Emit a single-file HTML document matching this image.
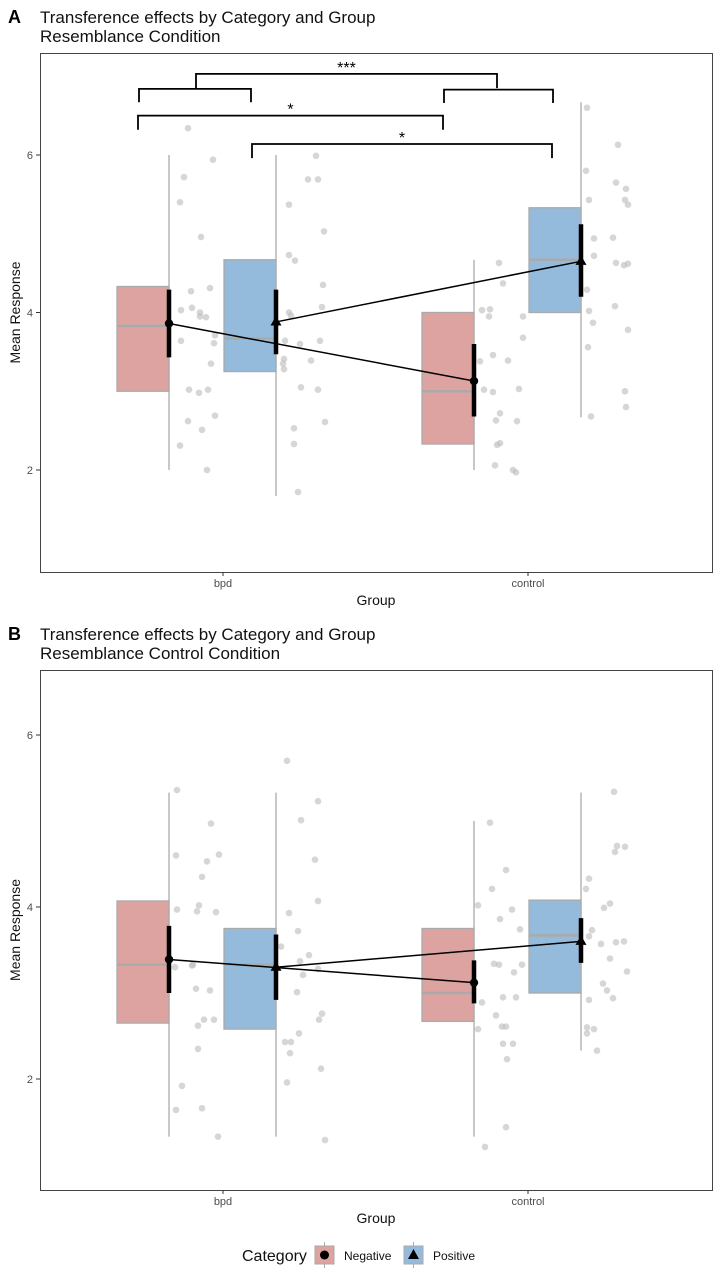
<!DOCTYPE html>
<html><head><meta charset="utf-8"><style>
body{margin:0;background:#fff;}
svg{display:block;font-family:"Liberation Sans",Arial,sans-serif;}
</style></head><body>
<svg id="chart" width="718" height="1275" viewBox="0 0 718 1275">
<g>
<text x="8" y="23" font-size="18" font-weight="bold">A</text>
<text x="40" y="23" font-size="17" fill="#111">Transference effects by Category and Group</text>
<text x="40" y="42" font-size="17" fill="#111">Resemblance Condition</text>
</g>
<g>
<text x="8" y="640" font-size="18" font-weight="bold">B</text>
<text x="40" y="640" font-size="17" fill="#111">Transference effects by Category and Group</text>
<text x="40" y="659" font-size="17" fill="#111">Resemblance Control Condition</text>
</g>
<g id="pa"></g>
<g id="pb"></g>
<g>
<text x="242" y="1261" font-size="16" fill="#111">Category</text>
<g>
<line x1="324.5" y1="1242" x2="324.5" y2="1268" stroke="#aaa" stroke-width="1"/>
<rect x="315" y="1246" width="19" height="18" fill="#dda3a1" stroke="#aaa"/>
<circle cx="324.5" cy="1255" r="4.5" fill="#000"/>
<text x="344" y="1260" font-size="12" fill="#111">Negative</text>
</g>
<g>
<line x1="413.5" y1="1242" x2="413.5" y2="1268" stroke="#aaa" stroke-width="1"/>
<rect x="404" y="1246" width="19" height="18" fill="#95bbdc" stroke="#aaa"/>
<polygon points="413.5,1249 419,1259 408,1259" fill="#000"/>
<text x="433" y="1260" font-size="12" fill="#111">Positive</text>
</g>
</g>
</svg>
<script>
const groups = ["bpd","control"];
const categories = ["Negative","Positive"];
const yTicks = [2,4,6];
// Panel A box stats [bpd-neg, bpd-pos, ctrl-neg, ctrl-pos]
const aQ1 = [3.0,3.25,2.33,4.0];
const aMed = [3.83,3.67,3.0,4.67];
const aQ3 = [4.33,4.67,4.0,5.33];
const aLo = [2.0,1.67,2.0,2.67];
const aHi = [6.0,6.0,4.67,6.67];
const aMean = [3.86,3.88,3.13,4.65];
const aCiLo = [3.43,3.47,2.68,4.2];
const aCiHi = [4.29,4.29,3.6,5.12];
// Panel B
const bQ1 = [2.65,2.58,2.67,3.0];
const bMed = [3.33,3.33,3.0,3.67];
const bQ3 = [4.07,3.75,3.75,4.08];
const bLo = [1.33,1.33,1.33,2.33];
const bHi = [5.33,5.33,5.0,5.33];
const bMean = [3.39,3.30,3.12,3.6];
const bCiLo = [3.0,2.92,2.88,3.35];
const bCiHi = [3.78,3.68,3.38,3.87];
// jittered raw points: [jitter offset, value]
const aPts0 = [[19,6.34],[44,5.94],[15,5.72],[11,5.4],[32,4.96],[22,4.27],[41,4.31],[12,4.03],[23,4.06],[31,4.0],[31,3.95],[37,3.94],[46,3.71],[12,3.64],[45,3.61],[42,3.35],[20,3.02],[30,2.98],[39,3.02],[46,2.69],[19,2.62],[33,2.51],[11,2.31],[38,2.0]];
const aPts1 = [[40,5.99],[32,5.69],[42,5.69],[13,5.37],[48,5.03],[13,4.73],[19,4.66],[47,4.35],[46,4.07],[13,4.0],[15,3.96],[9,3.64],[24,3.6],[44,3.64],[8,3.41],[7,3.35],[8,3.28],[35,3.39],[25,3.05],[42,3.02],[49,2.61],[18,2.53],[18,2.33],[22,1.72]];
const aPts2 = [[25,4.63],[29,4.37],[8,4.03],[16,4.04],[15,3.95],[49,3.95],[49,3.68],[19,3.46],[6,3.38],[34,3.39],[10,3.02],[19,2.99],[45,3.03],[26,2.72],[22,2.63],[43,2.62],[26,2.34],[23,2.32],[21,2.06],[39,2.0],[42,1.97]];
const aPts3 = [[6,6.6],[5,5.8],[35,5.65],[8,5.43],[13,4.94],[32,4.95],[13,4.72],[35,4.63],[6,4.29],[34,4.08],[8,4.02],[12,3.87],[7,3.56],[10,2.68],[37,6.13],[45,5.57],[47,5.37],[44,5.43],[43,4.6],[47,4.62],[44,3.0],[45,2.8],[47,3.78]];
const bPts0 = [[8,5.36],[42,4.97],[7,4.6],[50,4.61],[38,4.53],[33,4.35],[8,3.97],[30,4.02],[28,3.95],[47,3.94],[6,3.3],[23,3.32],[24,3.33],[27,3.05],[41,3.03],[29,2.62],[35,2.69],[45,2.69],[29,2.35],[13,1.92],[7,1.64],[33,1.66],[49,1.33]];
const bPts1 = [[11,5.7],[42,5.23],[25,5.01],[39,4.55],[42,4.07],[13,3.93],[22,3.72],[5,3.54],[33,3.44],[24,3.37],[42,3.28],[27,3.21],[21,3.01],[46,2.76],[43,2.69],[23,2.53],[9,2.43],[15,2.43],[14,2.3],[45,2.12],[11,1.96],[49,1.29]];
const bPts2 = [[16,4.98],[32,4.43],[18,4.21],[4,4.02],[26,3.86],[38,3.97],[46,3.74],[20,3.34],[25,3.33],[48,3.33],[40,3.24],[8,2.89],[29,2.95],[42,2.95],[22,2.74],[4,2.58],[28,2.61],[32,2.61],[29,2.41],[39,2.41],[33,2.23],[32,1.44],[11,1.21]];
const bPts3 = [[33,5.34],[36,4.71],[34,4.64],[8,4.33],[5,4.21],[23,3.99],[29,4.04],[8,3.66],[11,3.73],[20,3.57],[35,3.59],[29,3.4],[22,3.11],[26,3.03],[32,2.94],[8,2.92],[6,2.6],[13,2.58],[6,2.53],[16,2.33],[44,4.7],[46,3.25],[43,3.6]];

const NS="http://www.w3.org/2000/svg";
function mk(parent,tag,attrs){const e=document.createElementNS(NS,tag);for(const k in attrs)e.setAttribute(k,attrs[k]);parent.appendChild(e);return e;}
const groupX = {bpd:223, control:528};
function markX(gi,ci){return groupX[groups[gi]] + (ci===0?-54:53);}

function drawPanel(id,top,bottom,yv,stats,pts,brackets){
  const g=document.getElementById(id);
  const y=v=>yv(v);
  const fills=["#dda3a1","#95bbdc"];
  // frame
  const fr=mk(g,'rect',{x:40.5,y:top+0.5,width:672,height:bottom-top,fill:'none',stroke:'#444','stroke-width':1});
  
  
  yTicks.forEach(t=>{
    const tk=mk(g,'line',{x1:36,x2:40,y1:y(t),y2:y(t),stroke:'#333'});
    
    
    const tl=mk(g,'text',{x:33,y:y(t)+4,'text-anchor':'end','font-size':11,fill:'#4d4d4d'});
    tl.textContent=t;
    
    
  });
  groups.forEach(gr=>{
    const tk=mk(g,'line',{x1:groupX[gr],x2:groupX[gr],y1:bottom,y2:bottom+4,stroke:'#333'});
    
    
    const tl=mk(g,'text',{x:groupX[gr],y:bottom+15,'text-anchor':'middle','font-size':11,fill:'#4d4d4d'});
    tl.textContent=gr;
    
    
  });
  const xt=mk(g,'text',{x:376,y:bottom+33,'text-anchor':'middle','font-size':14,fill:'#111'});
  xt.textContent='Group';
  
  
  const cy=(top+bottom)/2;
  const yt=mk(g,'text',{x:20,y:cy,'text-anchor':'middle','font-size':14,fill:'#111',transform:`rotate(-90 20 ${cy})`});
  yt.textContent='Mean Response';
  
  
  const [Q1,Med,Q3,Lo,Hi,Mean,CL,CH]=stats;
  for(let i=0;i<4;i++){
    const gi=Math.floor(i/2),ci=i%2,x=markX(gi,ci);
    const w=mk(g,'line',{x1:x,x2:x,y1:y(Lo[i]),y2:y(Hi[i]),stroke:'#aaa','stroke-width':1.3});
    
    
    const b=mk(g,'rect',{x:x-52,y:y(Q3[i]),width:52,height:y(Q1[i])-y(Q3[i]),fill:fills[ci],stroke:'#aaa','stroke-width':1.3});
    
    
    const m=mk(g,'line',{x1:x-52,x2:x,y1:y(Med[i]),y2:y(Med[i]),stroke:'#aaa','stroke-width':2.5});
    
    
    pts[i].forEach(p=>{
      const c=mk(g,'circle',{cx:x+p[0],cy:y(p[1]),r:3.3,fill:'#bbb','fill-opacity':0.6});
      
      
    });
  }
  // mean lines
  for(let ci=0;ci<2;ci++){
    const l=mk(g,'line',{x1:markX(0,ci),y1:y(Mean[ci]),x2:markX(1,ci),y2:y(Mean[2+ci]),stroke:'#000','stroke-width':1.5});
    
    
  }
  for(let i=0;i<4;i++){
    const gi=Math.floor(i/2),ci=i%2,x=markX(gi,ci);
    const e=mk(g,'line',{x1:x,x2:x,y1:y(CL[i]),y2:y(CH[i]),stroke:'#000','stroke-width':4.5});
    
    
    let mm;
    if(ci===0) mm=mk(g,'circle',{cx:x,cy:y(Mean[i]),r:4.2,fill:'#000'});
    else {const yy=y(Mean[i]);mm=mk(g,'polygon',{points:`${x},${yy-6} ${x+5.5},${yy+3.5} ${x-5.5},${yy+3.5}`,fill:'#000'});}
    
    
  }
  (brackets||[]).forEach(br=>{
    const [x1,x2,yb,leg,lab]=br;
    const p=mk(g,'path',{d:`M${x1},${y(leg)} V${y(yb)} H${x2} V${y(leg)}`,fill:'none',stroke:'#000','stroke-width':1.8});
    
    
    if(lab){const t=mk(g,'text',{x:(x1+x2)/2,y:y(yb)-1,'text-anchor':'middle','font-size':16,fill:'#000'});
      t.textContent=lab;
      
      }
  });
}
const yA=v=>470-(v-2)*78.75;
const yB=v=>1079-(v-2)*86;
// brackets: [x1,x2,level,legEnd,label]
const bracketsA=[[196,497,7.03,6.85,'***'],[139,251,6.84,6.67,''],[444,553,6.83,6.66,''],[138,443,6.5,6.32,'*'],[252,552,6.14,5.96,'*']];
drawPanel('pa',53,572,yA,[aQ1,aMed,aQ3,aLo,aHi,aMean,aCiLo,aCiHi],[aPts0,aPts1,aPts2,aPts3],bracketsA);
drawPanel('pb',670,1190,yB,[bQ1,bMed,bQ3,bLo,bHi,bMean,bCiLo,bCiHi],[bPts0,bPts1,bPts2,bPts3],[]);
</script>
</body></html>
